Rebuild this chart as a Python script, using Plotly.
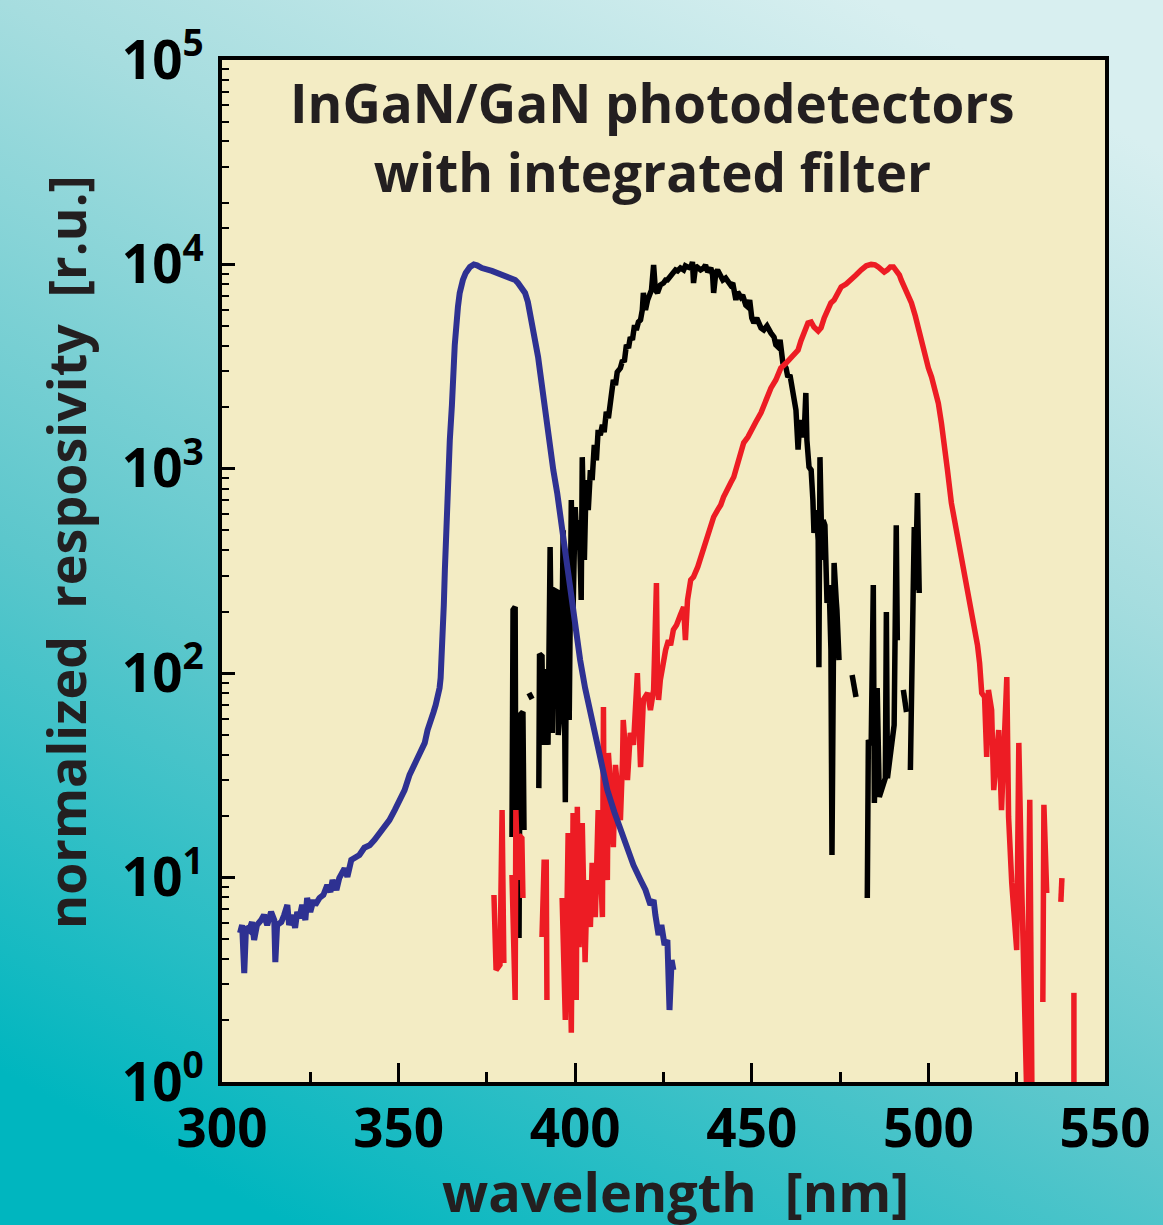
import base64
import plotly.graph_objects as go

# ---------------- data ----------------
blue_nm = [305.1, 305.7, 306.3, 306.8, 307.7, 308.5, 309.1, 309.9, 311.1, 311.9, 312.8, 313.4, 313.9, 314.8,
           315.1, 315.6, 316.8, 317.6, 318.5, 319.0, 319.9, 320.7, 321.3, 321.9, 322.7, 323.6, 324.1, 325.0,
           325.9, 326.4, 327.6, 328.7, 329.8, 330.7, 331.3, 332.4, 333.2, 334.7, 335.5, 336.6, 337.8, 338.9,
           340.3, 341.8, 343.2, 344.6, 346.0, 347.4, 348.9, 350.3, 351.7, 353.1, 354.5, 356.0, 357.4, 358.2,
           359.1, 359.9, 360.5, 361.1, 361.6, 361.9, 362.2, 362.5, 362.8, 363.1, 363.4, 363.6, 364.2, 364.5,
           365.1, 365.3, 365.9, 366.8, 367.3, 368.2, 369.0, 370.2, 371.3, 372.2, 373.6, 376.4, 377.8, 379.5,
           381.5, 383.0, 383.8, 384.9, 385.8, 386.6, 387.2, 388.1, 388.6, 389.5, 390.1, 390.9, 391.5, 392.3,
           392.9, 393.8, 394.9, 396.3, 397.7, 399.4, 401.4, 402.8, 404.3, 405.7, 407.1, 409.1, 411.1, 412.8,
           414.8, 416.5, 418.5, 419.9, 421.3, 422.2, 422.7, 423.6, 424.4, 425.3, 426.1, 426.7, 427.3, 427.8]
blue_val = [5.36, 5.86, 3.41, 5.73, 5.54, 6.06, 4.95, 5.86, 6.2, 6.56, 5.86, 6.34, 6.79, 6.2,
            3.86, 5.86, 6.06, 6.56, 7.35, 5.86, 6.56, 5.67, 6.79, 6.34, 7.35, 6.2, 7.95, 6.79,
            7.77, 7.35, 7.95, 8.22, 9.2, 8.51, 9.73, 8.7, 9.95, 11.1, 10.1, 12.2, 12.5, 12.9,
            14.0, 14.4, 15.3, 16.5, 17.9, 19.1, 21.4, 24.0, 26.8, 31.8, 35.6, 39.8, 45.6, 52.7,
            57.7, 64.6, 69.9, 76.5, 84.7, 94.8, 116, 145, 216, 320, 474, 704, 1045, 1384,
            2051, 2943, 4036, 6194, 7250, 8390, 9080, 9710, 10000, 9900, 9600, 9290, 9080, 8870,
            8570, 8390, 8110, 7670, 7250, 6550, 5780, 4940, 4270, 3520, 2943, 2297, 1875, 1463,
            1194, 986, 762, 502, 331, 193, 116, 84.7, 64.6, 48.2, 37.6, 26.8, 20.9, 17.5,
            13.6, 11.5, 9.73, 8.7, 7.35, 7.77, 6.56, 5.24, 5.86, 4.68, 4.95, 2.25, 3.95, 3.53]

black_nm = [382.1, 382.4, 383.0, 383.2, 383.8, 384.1, 384.4, 385.2, 385.5, None,
            386.9, 387.8, None,
            389.7, 389.9, 390.6, 390.9, 391.5, 392.0, 392.3, 392.9, 393.5, 394.0, 394.9, 395.2, 396.0,
            396.6, 397.2, 397.7, 398.3, 398.9, 399.4, 400.0, 400.6, 401.1, 401.7, 402.0, 402.6, 403.1,
            403.7, 404.3, 404.8, 405.4, 406.0, 406.5, 407.1, 407.7, 408.2, 408.8, 409.4, 409.9, 410.5,
            410.8, 411.4, 411.9, 412.8, 413.4, 413.9, 414.5, 415.1, 415.6, 416.2, 416.8, 417.3, 417.9,
            418.5, 419.0, 419.3, 419.9, 420.5, 421.0, 421.6, 422.2, 422.7, 423.3, 424.1, 425.0, 425.6,
            426.1, 427.0, 427.8, 428.4, 429.0, 429.8, 430.7, 431.2, 431.8, 432.7, 433.2, 433.5, 434.1,
            434.9, 435.5, 436.4, 436.9, 437.5, 438.4, 438.9, 439.2, 439.8, 440.3, 441.2, 441.8, 442.6,
            443.5, 444.0, 444.6, 445.5, 446.0, 446.9, 447.4, 448.3, 448.9, 449.4, 450.0, 450.6, 451.4,
            452.6, 453.4, 454.3, 455.4, 456.3, 456.8, 457.4, 458.0, 458.8, 459.7, 460.2, 460.8, 461.4,
            461.9, 462.5, 463.1, 463.6, 464.2, 464.8, 465.3, 465.6, 466.2, 466.8, 467.3, 467.6, 468.2,
            468.8, 469.0, 469.3, 469.9, 470.2, 470.7, 471.3, 471.9, 472.2, 472.4, 472.7, 473.0, 473.3,
            473.9, 474.1, 474.7, None,
            478.4, 479.5, None,
            482.7, 483.0, 483.8, 484.4, 484.7, 485.5, 486.1, 487.8, 488.1, 488.4, 490.3, 490.5, 490.9,
            491.2, None,
            492.9, 493.8, None,
            494.9, 495.2, 495.7, 496.0, 496.3, 496.9, 497.4]
black_val = [15.8, 204, 211, 16.1, 59.0, 5.07, 62.5, 64.6, 17.1, None,
             80.0, 74.8, None,
             27.4, 124, 121, 44.6, 104, 101, 44.6, 414, 51.0, 255, 250, 49.9, 74.0,
             501, 23.4, 358, 59.0, 703, 204, 650, 401, 561, 228, 1140, 358, 881,
             628, 986, 881, 1310, 1100, 1550, 1460, 1640, 1510, 1900, 1770, 2050, 2300,
             2720, 2570, 2970, 3110, 3400, 3330, 4040, 3900, 4410, 4270, 5050, 4780, 5230,
             5350, 5980, 7250, 5980, 6700, 7080, 7500, 9930, 7500, 7250, 7930, 8110, 8390,
             8390, 8770, 8970, 9400, 9290, 9610, 9400, 9840, 9720, 9610, 10280, 8110, 9840,
             9610, 9400, 9610, 9930, 9180, 9610, 8870, 7250, 9080, 9400, 8770, 8390, 8570,
             8110, 7930, 8110, 6700, 7330, 6920, 7080, 6320, 6190, 6700, 5470, 5170, 5470,
             4890, 4780, 5000, 4620, 4410, 4040, 3950, 4270, 3290, 3110, 2810, 2880, 2430,
             2250, 1940, 1240, 1730, 1550, 1430, 2350, 1380, 1020, 986, 703, 485, 628,
             448, 107, 1140, 358, 561, 530, 221, 270, 188, 130, 12.9, 228, 346,
             228, 204, 116, None,
             98.0, 76.5, None,
             7.95, 47.1, 44.6, 270, 23.2, 84.7, 24.8, 30.7, 199, 30.7, 55.8, 401, 530,
             145, None,
             82.8, 64.6, None,
             33.6, 116, 255, 519, 255, 761, 247]

red_nm = [377.0, 377.6, 378.7, 379.3, 379.8, None,
          382.1, 383.0, 383.2, 383.8, 384.1, 384.9, 385.2, None,
          390.6, 391.2, 391.8, 392.0, None,
          396.3, 397.2, 398.0, 398.9, 399.4, 400.3, 400.6, 401.1, 402.0, 402.8, 403.4, 404.3, 404.8,
          405.7, 406.5, 407.7, 408.0, 408.2, 409.1, 409.4, 409.9, 410.8, 411.4, 411.9, 412.8, 413.4,
          413.6, 414.8, 415.6, 416.5, 417.6, 418.5, 419.3, 420.5, 421.3, 422.2, 423.0, 423.3, 423.6,
          424.1, 425.0, 425.6, 426.4, 427.0, 427.8, 428.7, 429.8, 430.7, 431.2, 431.8, 432.7, 433.5,
          434.7, 435.5, 436.4, 437.5, 438.4, 439.2, 440.3, 441.2, 442.0, 443.2, 444.0, 444.9, 446.0,
          446.9, 447.7, 448.9, 449.7, 451.1, 452.6, 453.4, 454.5, 455.4, 456.8, 458.2, 459.7, 461.1,
          461.9, 463.1, 463.9, 465.0, 465.9, 466.8, 467.6, 468.8, 469.6, 470.5, 471.6, 472.4, 473.3,
          474.4, 475.3, 476.7, 478.1, 479.5, 481.0, 482.4, 483.8, 484.9, 485.8, 486.6, 487.5, 488.4,
          489.2, 490.1, 490.9, 491.8, 492.3, 493.2, 494.3, 495.2, 496.3, 497.2, 498.0, 498.9, 500.0,
          500.9, 501.7, 502.8, 503.7, 504.5, 505.4, 506.5, 507.4, 508.5, 509.4, 510.2, 511.1, 511.7,
          512.5, 513.1, 513.9, 514.5, 515.1, 515.9, 516.5, 517.0, 517.9, 518.5, 519.9, 520.7, 522.2,
          522.7, 523.6, 525.0, 525.6, 526.4, 527.0, 527.8, 528.7, 529.3, None,
          532.4, 532.7, 533.5, None,
          537.5, 537.8, None,
          541.2, 541.2]
red_val = [8.22, 3.53, 3.74, 21.4, 3.82, None,
           10.3, 2.52, 21.4, 9.73, 16.1, 15.6, 7.95, None,
           5.12, 11.9, 11.9, 2.52, None,
           7.95, 2.01, 16.5, 1.74, 20.7, 2.52, 22.2, 4.57, 18.5, 3.86, 9.73, 5.73, 11.8,
           6.41, 21.4, 6.41, 68.3, 14.4, 9.73, 40.7, 30.0, 14.1, 35.6, 27.7, 19.1, 37.6,
           59.0, 30.0, 51.0, 44.6, 100, 34.7, 74.0, 80.0, 66.1, 82.8, 276, 92.6, 74.0,
           92.6, 116, 130, 145, 137, 163, 172, 193, 211, 145, 228, 286, 296,
           331, 366, 401, 448, 513, 581, 628, 665, 728, 787, 853, 912, 1070,
           1170, 1340, 1430, 1530, 1690, 1880, 2050, 2300, 2480, 2720, 3110, 3290, 3480,
           3600, 3810, 4220, 4780, 5170, 5230, 4940, 4720, 4890, 5470, 6190, 6480, 6700,
           7250, 7750, 8020, 8390, 8870, 9400, 9840, 10000, 9950, 9720, 9400, 9180, 9400,
           9720, 9720, 9400, 8870, 8390, 7750, 7080, 6480, 5590, 4780, 4120, 3520, 3110,
           2810, 2480, 2100, 1670, 1340, 986, 681, 561, 448, 370, 309, 261, 228,
           193, 168, 137, 112, 80.0, 76.5, 38.9, 82.8, 66.1, 26.8, 52.7, 21.4, 95.7,
           19.8, 9.41, 4.42, 45.6, 9.41, 2.73, 0.93, 24.0, 0.93, None,
           2.46, 22.7, 8.41, None,
           7.60, 9.95, None,
           2.73, 0.93]

x_ticks = [300, 350, 400, 450, 500, 550]
x_minor = [325, 375, 425, 475, 525]
y_ticks = [1, 10, 100, 1000, 10000, 100000]
y_ticktext = ["10<sup>0</sup>", "10<sup>1</sup>", "10<sup>2</sup>", "10<sup>3</sup>",
              "10<sup>4</sup>", "10<sup>5</sup>"]
title_text = "InGaN/GaN photodetectors<br>with integrated filter"
x_title = "wavelength  [nm]"
y_title = "normalized  resposivity  [r.u.]"

# ---------------- style ----------------
W, H = 1163, 1225
ML, MR, MT, MB = 222, 58, 60, 143
PW, PH = W - ML - MR, H - MT - MB
FONT = "Open Sans"
TXT = "#231f20"
BEIGE = "#f3ecc4"

y_minor = []
for e in range(5):
    for d in range(2, 10):
        y_minor.append(d * 10 ** e)
y_minor.append(1.5e4)

grad_svg = (
    '<svg xmlns="http://www.w3.org/2000/svg" width="1163" height="1225" preserveAspectRatio="none">'
    '<defs><linearGradient id="g" x1="0.25" y1="1" x2="0.75" y2="0">'
    '<stop offset="0" stop-color="#00b6bf"/>'
    '<stop offset="0.35" stop-color="#5cc7cc"/>'
    '<stop offset="0.7" stop-color="#a6dddf"/>'
    '<stop offset="1" stop-color="#d8eff0"/>'
    '</linearGradient></defs>'
    '<rect width="1163" height="1225" fill="url(#g)"/></svg>'
)
grad_uri = "data:image/svg+xml;base64," + base64.b64encode(grad_svg.encode()).decode()

fig = go.Figure()
fig.add_trace(go.Scatter(x=black_nm, y=black_val, mode="lines", connectgaps=False,
                         line=dict(color="#000000", width=5.5), showlegend=False))
fig.add_trace(go.Scatter(x=red_nm, y=red_val, mode="lines", connectgaps=False,
                         line=dict(color="#ed1c24", width=5.5), showlegend=False))
fig.add_trace(go.Scatter(x=blue_nm, y=blue_val, mode="lines",
                         line=dict(color="#2e3192", width=6), showlegend=False))

fig.update_layout(
    width=W, height=H,
    margin=dict(l=ML, r=MR, t=MT, b=MB, pad=0),
    paper_bgcolor="#6ecbd0",
    plot_bgcolor=BEIGE,
    font=dict(family=FONT, color="#000000"),
    images=[dict(source=grad_uri, xref="paper", yref="paper",
                 x=-ML / PW, y=1 + MT / PH, sizex=W / PW, sizey=H / PH,
                 xanchor="left", yanchor="top", sizing="stretch", layer="below")],
    shapes=[dict(type="rect", xref="paper", yref="paper", x0=0, x1=1, y0=0, y1=1,
                 fillcolor=BEIGE, line=dict(width=0), layer="below")],
    xaxis=dict(range=[300, 550], showgrid=False, zeroline=False,
               showline=True, linecolor="black", linewidth=3.5, mirror=True,
               tickmode="array", tickvals=x_ticks, ticks="inside", ticklen=19,
               tickwidth=2.5, tickcolor="black",
               ticklabelstandoff=-2,
               tickfont=dict(family=FONT, size=53, weight="bold", color="black"),
               minor=dict(tickmode="array", tickvals=x_minor, ticks="inside",
                          ticklen=10, tickwidth=2.5, tickcolor="black")),
    yaxis=dict(type="log", range=[0, 5], showgrid=False, zeroline=False,
               showline=True, linecolor="black", linewidth=3.5, mirror=True,
               tickmode="array", tickvals=y_ticks, ticktext=y_ticktext,
               ticks="inside", ticklen=13, tickwidth=2.5, tickcolor="black",
               ticklabelstandoff=4,
               tickfont=dict(family=FONT, size=53, weight="bold", color="black"),
               minor=dict(tickmode="array", tickvals=y_minor, ticks="inside",
                          ticklen=7, tickwidth=2, tickcolor="black")),
    annotations=[
        dict(text=title_text, xref="paper", yref="paper", x=0.487, y=0.996,
             xanchor="center", yanchor="top", showarrow=False, align="center",
             font=dict(family=FONT, size=53, weight="bold", color=TXT)),
        dict(text=x_title, xref="paper", yref="paper", x=(675 - ML) / PW,
             y=-(1191 - (H - MB)) / PH, xanchor="center", yanchor="middle",
             showarrow=False, font=dict(family=FONT, size=54, weight="bold", color=TXT)),
        dict(text=y_title, xref="paper", yref="paper", x=(65 - ML) / PW,
             y=((H - MB) - 552) / PH, xanchor="center", yanchor="middle", textangle=-90,
             showarrow=False, font=dict(family=FONT, size=52, weight="bold", color=TXT)),
    ],
)

fig.write_html("out.html", config={"displayModeBar": False},
               post_script="document.body.style.margin='0';document.body.style.padding='0';")
